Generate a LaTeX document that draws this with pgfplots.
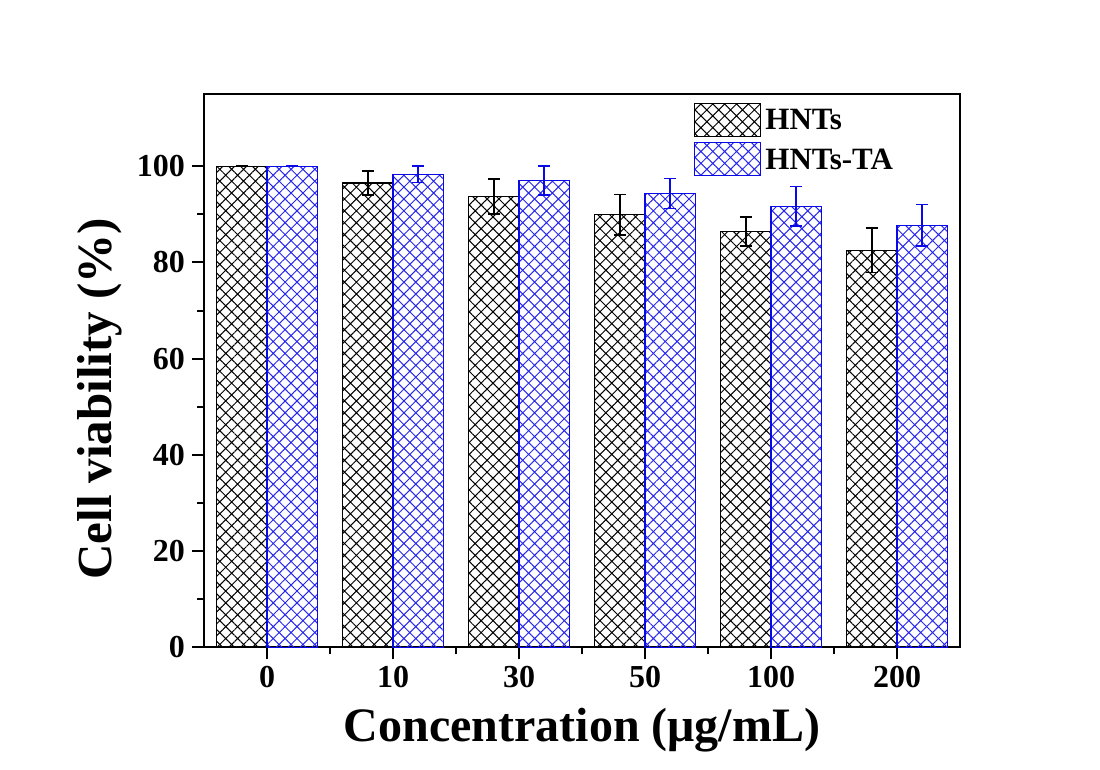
\documentclass[border=0pt]{standalone}
\usepackage{pgfplots}
\pgfplotsset{compat=1.18}
\usepackage{fontspec}
\setmainfont{Liberation Serif}
\usetikzlibrary{patterns.meta}

\definecolor{hatchblue}{RGB}{40,40,235}
\definecolor{edgeblue}{RGB}{10,10,230}

\begin{document}
\begin{tikzpicture}
\begin{axis}[
    name=ax,
    scale only axis,
    width=378pt, height=276.7pt,
    ybar=0pt, bar width=0.4,
    xmin=-0.5, xmax=5.5,
    ymin=0, ymax=115,
    xtick={0,1,2,3,4,5},
    xticklabels={0,10,30,50,100,200},
    ytick={0,20,40,60,80,100},
    minor x tick num=1,
    minor y tick num=1,
    tick align=outside,
    xtick pos=bottom, ytick pos=left,
    major tick length=6pt, minor tick length=3.5pt,
    axis line style={line width=1pt},
    every tick/.style={black, line width=1pt},
    /pgf/number format/assume math mode=true,
    ticklabel style={font=\bfseries\fontsize{16}{16}\selectfont},
    xlabel={Concentration (μg/mL)},
    ylabel={Cell viability (\%)},
    xlabel style={font=\bfseries\fontsize{24}{24}\selectfont, yshift=-3pt},
    every axis y label/.style={at={([xshift=-41pt, yshift=-14pt]rel axis cs:0,0.5)}, rotate=90, anchor=south,
      inner sep=0pt, font=\bfseries\fontsize{24.5}{24.5}\selectfont},
    legend image code/.code={\draw[#1] (0pt,-8.25pt) rectangle (33pt,8.25pt);},
    legend style={draw=none, fill=none, at={(rel axis cs:0.648,0.985)}, anchor=north west,
      inner sep=0pt, row sep=2.5pt,
      font=\bfseries\fontsize{15.5}{15.5}\selectfont,
      nodes={inner sep=2pt, text depth=0pt, xshift=2pt}},
    legend cell align=left,
]

% HNTs
\addplot[draw=black, line width=0.6pt,
    pattern={Hatch[angle=45, distance=4.2pt, line width=0.5pt]}, pattern color=black,
    error bars/.cd, y dir=both, y explicit,
    error bar style={black, line width=0.8pt},
    error mark options={rotate=90, black, mark size=3pt, line width=0.8pt}]
  coordinates {
    (0,100.0) +- (0,0)
    (1,96.5)  +- (0,2.5)
    (2,93.7)  +- (0,3.6)
    (3,89.9)  +- (0,4.2)
    (4,86.4)  +- (0,3.0)
    (5,82.5)  +- (0,4.6)
  };

% HNTs-TA
\addplot[draw=edgeblue, line width=0.6pt,
    pattern={Hatch[angle=45, distance=4.2pt, line width=0.5pt]}, pattern color=hatchblue,
    error bars/.cd, y dir=both, y explicit,
    error bar style={edgeblue, line width=0.8pt},
    error mark options={rotate=90, edgeblue, mark size=3pt, line width=0.8pt}]
  coordinates {
    (0,100.0) +- (0,0)
    (1,98.3)  +- (0,1.7)
    (2,97.0)  +- (0,3.0)
    (3,94.3)  +- (0,3.1)
    (4,91.7)  +- (0,4.1)
    (5,87.7)  +- (0,4.3)
  };

\legend{HNTs, HNTs-TA}
\end{axis}
\path (ax.south west) ++(-102pt,-60.9pt);
\path (ax.north east) ++(70pt,47pt);
\end{tikzpicture}
\end{document}
